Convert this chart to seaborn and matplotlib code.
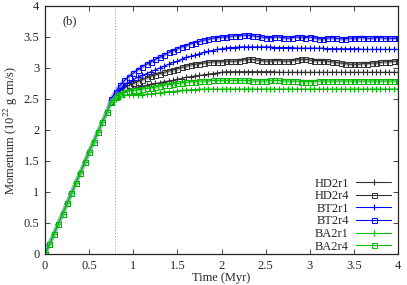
import numpy as np
import pandas as pd
import seaborn as sns
import matplotlib
matplotlib.use('Agg')
import matplotlib.pyplot as plt

# time axis (Myr), one sample every 0.05 Myr
time = np.round(np.arange(0, 4.0001, 0.05), 2)

# common linear rise, t = 0 .. 0.70
rise = [0.0, 0.16, 0.32, 0.49, 0.65, 0.82, 0.98, 1.15, 1.31, 1.48,
        1.65, 1.81, 1.97, 2.13, 2.29]

# t = 0.75 .. 4.00 for each run
hd2r1_late = [2.45, 2.53, 2.58, 2.62, 2.65, 2.67, 2.69, 2.71, 2.72, 2.74,
              2.75, 2.76, 2.78, 2.79, 2.80, 2.82, 2.83, 2.85, 2.86, 2.87,
              2.88, 2.89, 2.90, 2.91, 2.92, 2.93, 2.94, 2.94, 2.94, 2.94,
              2.94, 2.94, 2.94, 2.94, 2.94, 2.94, 2.94, 2.94, 2.93, 2.93,
              2.93, 2.93, 2.93, 2.93, 2.93, 2.93, 2.93, 2.93, 2.93, 2.93,
              2.93, 2.93, 2.93, 2.93, 2.93, 2.93, 2.93, 2.93, 2.93, 2.93,
              2.93, 2.93, 2.93, 2.93, 2.93, 2.93]
hd2r4_late = [2.47, 2.56, 2.63, 2.68, 2.72, 2.75, 2.78, 2.81, 2.84, 2.87,
              2.89, 2.91, 2.93, 2.95, 2.97, 2.99, 3.01, 3.03, 3.05, 3.06,
              3.07, 3.08, 3.09, 3.10, 3.10, 3.10, 3.11, 3.11, 3.11, 3.12,
              3.13, 3.14, 3.14, 3.13, 3.12, 3.11, 3.11, 3.12, 3.12, 3.11,
              3.11, 3.12, 3.13, 3.14, 3.14, 3.13, 3.12, 3.12, 3.12, 3.11,
              3.10, 3.09, 3.08, 3.07, 3.06, 3.06, 3.06, 3.07, 3.07, 3.08,
              3.08, 3.09, 3.10, 3.10, 3.11, 3.11]
bt2r1_late = [2.48, 2.58, 2.66, 2.72, 2.77, 2.81, 2.85, 2.88, 2.91, 2.94,
              2.97, 3.00, 3.03, 3.06, 3.09, 3.11, 3.14, 3.17, 3.19, 3.21,
              3.23, 3.25, 3.27, 3.28, 3.30, 3.31, 3.32, 3.33, 3.33, 3.34,
              3.34, 3.34, 3.34, 3.34, 3.34, 3.34, 3.34, 3.33, 3.33, 3.33,
              3.33, 3.33, 3.32, 3.32, 3.32, 3.32, 3.32, 3.32, 3.32, 3.31,
              3.31, 3.31, 3.31, 3.31, 3.31, 3.31, 3.31, 3.30, 3.30, 3.30,
              3.30, 3.30, 3.30, 3.30, 3.30, 3.30]
bt2r4_late = [2.50, 2.62, 2.72, 2.80, 2.86, 2.92, 2.97, 3.02, 3.06, 3.10,
              3.14, 3.17, 3.21, 3.25, 3.28, 3.31, 3.34, 3.36, 3.39, 3.41,
              3.43, 3.45, 3.46, 3.48, 3.49, 3.50, 3.50, 3.51, 3.52, 3.52,
              3.53, 3.53, 3.52, 3.51, 3.50, 3.49, 3.49, 3.50, 3.50, 3.49,
              3.48, 3.49, 3.50, 3.50, 3.49, 3.50, 3.49, 3.47, 3.47, 3.48,
              3.49, 3.48, 3.47, 3.47, 3.48, 3.48, 3.49, 3.49, 3.48, 3.48,
              3.49, 3.49, 3.48, 3.48, 3.48, 3.48]
ba2r1_late = [2.43, 2.50, 2.54, 2.56, 2.57, 2.57, 2.57, 2.57, 2.58, 2.58,
              2.59, 2.60, 2.61, 2.62, 2.62, 2.63, 2.64, 2.64, 2.65, 2.65,
              2.66, 2.66, 2.66, 2.66, 2.66, 2.66, 2.66, 2.66, 2.66, 2.66,
              2.66, 2.66, 2.66, 2.66, 2.66, 2.66, 2.66, 2.66, 2.66, 2.66,
              2.66, 2.66, 2.66, 2.66, 2.66, 2.66, 2.66, 2.66, 2.66, 2.66,
              2.66, 2.66, 2.66, 2.66, 2.66, 2.66, 2.66, 2.66, 2.66, 2.66,
              2.66, 2.66, 2.66, 2.66, 2.66, 2.66]
ba2r4_late = [2.45, 2.53, 2.58, 2.61, 2.63, 2.64, 2.65, 2.66, 2.67, 2.68,
              2.69, 2.71, 2.72, 2.73, 2.74, 2.75, 2.76, 2.77, 2.78, 2.78,
              2.79, 2.79, 2.79, 2.80, 2.80, 2.80, 2.80, 2.80, 2.80, 2.80,
              2.80, 2.80, 2.79, 2.79, 2.79, 2.79, 2.80, 2.80, 2.80, 2.79,
              2.79, 2.79, 2.79, 2.78, 2.78, 2.78, 2.78, 2.79, 2.79, 2.79,
              2.79, 2.79, 2.79, 2.79, 2.79, 2.79, 2.79, 2.79, 2.79, 2.79,
              2.79, 2.79, 2.79, 2.79, 2.79, 2.79]

t_cut = 0.79  # dotted vertical marker

series = {
    'HD2r1': rise + hd2r1_late,
    'HD2r4': rise + hd2r4_late,
    'BT2r1': rise + bt2r1_late,
    'BT2r4': rise + bt2r4_late,
    'BA2r1': rise + ba2r1_late,
    'BA2r4': rise + ba2r4_late,
}
styles = {
    'HD2r1': dict(color='#303030', marker='+', halo=None),
    'HD2r4': dict(color='#303030', marker='s', halo='#909090'),
    'BT2r1': dict(color='#0000ff', marker='+', halo=None),
    'BT2r4': dict(color='#0000ff', marker='s', halo='#8080ff'),
    'BA2r1': dict(color='#00bb00', marker='+', halo=None),
    'BA2r4': dict(color='#00bb00', marker='s', halo='#80e080'),
}

sns.set_style('ticks')
plt.rcParams['font.family'] = ['Liberation Serif', 'DejaVu Serif']
plt.rcParams['mathtext.fontset'] = 'stix'

fig = plt.figure(figsize=(4.07, 2.85), dpi=100)
ax = fig.add_axes([0.1106, 0.1088, 0.8674, 0.8702])

for name, vals in series.items():
    st = styles[name]
    df = pd.DataFrame({'t': time, 'p': vals})
    if st['halo'] is not None:
        sns.lineplot(data=df, x='t', y='p', ax=ax, color=st['halo'],
                     lw=3, alpha=0.6, legend=False)
    if st['marker'] == 's':
        sns.lineplot(data=df, x='t', y='p', ax=ax, color=st['color'],
                     lw=0.8, marker='s', markersize=3.6, mfc='none',
                     mec=st['color'], mew=0.7, label=name)
    else:
        sns.lineplot(data=df, x='t', y='p', ax=ax, color=st['color'],
                     lw=0.8, marker='+', markersize=4.5, mew=0.8,
                     mec=st['color'], label=name)

ax.axvline(t_cut, color='#d08080', ls=(0, (1, 2)), lw=0.7)

ax.set_xlim(0, 4)
ax.set_ylim(0, 4)
ax.set_xticks([0, 0.5, 1, 1.5, 2, 2.5, 3, 3.5, 4])
ax.set_xticklabels(['0', '0.5', '1', '1.5', '2', '2.5', '3', '3.5', '4'])
ax.set_yticks([0, 0.5, 1, 1.5, 2, 2.5, 3, 3.5, 4])
ax.set_yticklabels(['0', '0.5', '1', '1.5', '2', '2.5', '3', '3.5', '4'])
ax.tick_params(direction='in', top=True, right=True, labelsize=9,
               length=3.5, width=0.6, pad=4)
for s in ax.spines.values():
    s.set_linewidth(0.9)

ax.set_xlabel('Time (Myr)', fontsize=9, labelpad=0)
ax.set_ylabel('Momentum (10$^{22}$ g cm/s)', fontsize=9, labelpad=3)
ax.text(0.2, 3.7, '(b)', fontsize=9)

ax.legend(loc='lower right', bbox_to_anchor=(0.995, -0.015), frameon=False,
          markerfirst=False, fontsize=9, handlelength=2.8, labelspacing=0.05,
          borderaxespad=0.0, handletextpad=0.6)

fig.savefig('out.png', dpi=100)
